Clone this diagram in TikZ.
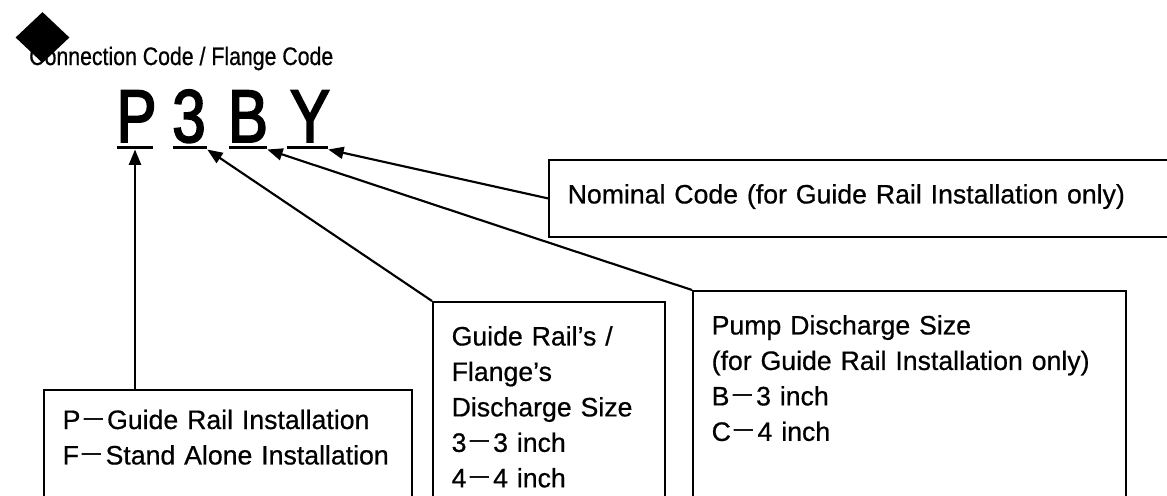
\documentclass[tikz,border=0pt]{standalone}
\usepackage{fontspec}
\setmainfont[FakeBold=0.6]{Liberation Sans}
\newfontfamily\codefont[FakeStretch=0.8,FakeBold=2.5]{Liberation Sans}
\newfontfamily\headfont[FakeStretch=0.84,FakeBold=0.6]{Liberation Sans}
\newfontfamily\cjkfont{Noto Sans CJK JP}
\usetikzlibrary{arrows.meta,shapes.geometric}
\newcommand{\fwdash}{{\cjkfont －}}

\begin{document}
\begin{tikzpicture}[x=0.75pt, y=-0.75pt,
    infobox/.style={draw, line width=1.5pt, anchor=north west, align=left,
      inner xsep=14pt, inner ysep=17.6pt, text height=15pt, text depth=150pt,
      font=\fontsize{20pt}{26.6pt}\selectfont},
    letter/.style={anchor=base, inner sep=0pt,
      font=\codefont\fontsize{56pt}{60pt}\selectfont},
    bar/.style={fill, inner sep=0pt, minimum height=2.6pt},
    pointer/.style={-{Triangle[length=11.5pt,width=9pt]}, line width=1.6pt}]
    \useasboundingbox (0,0) rectangle (1167,496);
    \clip (0,0) rectangle (1167,496);

    % heading
    \node[anchor=base west, inner sep=0pt, font=\headfont\fontsize{19pt}{22pt}\selectfont]
        (title) at (29,65) {Connection Code / Flange Code};
    \node[diamond, fill, inner sep=0pt, minimum width=40.5pt, minimum height=38.25pt]
        (mark) at (42.5,37.5) {};

    % the code letters
    \node[letter] (cP) at (136.5,142) {P};
    \node[letter] (c3) at (189,142) {3};
    \node[letter] (cB) at (248,142) {B};
    \node[letter] (cY) at (310,142) {Y};
    \node[bar, minimum width=27pt]    (uP) at (135,147.5) {};
    \node[bar, minimum width=25.5pt]  (u3) at (190,147.5) {};
    \node[bar, minimum width=28.5pt]  (uB) at (248,147.5) {};
    \node[bar, minimum width=30.75pt] (uY) at (307.5,147.5) {};

    % explanations
    \node[infobox, inner ysep=14.25pt, text width=248pt] (kind) at (43,389)
        {P\fwdash Guide Rail Installation\\F\fwdash Stand Alone Installation};
    \node[infobox, text width=146pt] (rail) at (432,301)
        {Guide Rail’s /\\Flange’s\\Discharge Size\\3\fwdash 3 inch\\4\fwdash 4 inch};
    \node[infobox, text width=297pt] (pump) at (692,290)
        {Pump Discharge Size\\(for Guide Rail Installation only)\\B\fwdash 3 inch\\C\fwdash 4 inch};
    \node[infobox, text width=445pt, text depth=7.4pt] (nominal) at (548,159)
        {Nominal Code (for Guide Rail Installation only)};

    \draw[pointer] (uP.south |- kind.north) -- (uP.south);
    \draw[pointer] (rail.north west) -- (u3.south east);
    \draw[pointer] (pump.north west) -- (uB.south east);
    \draw[pointer] (nominal.west) -- (uY.south east);
\end{tikzpicture}
\end{document}
